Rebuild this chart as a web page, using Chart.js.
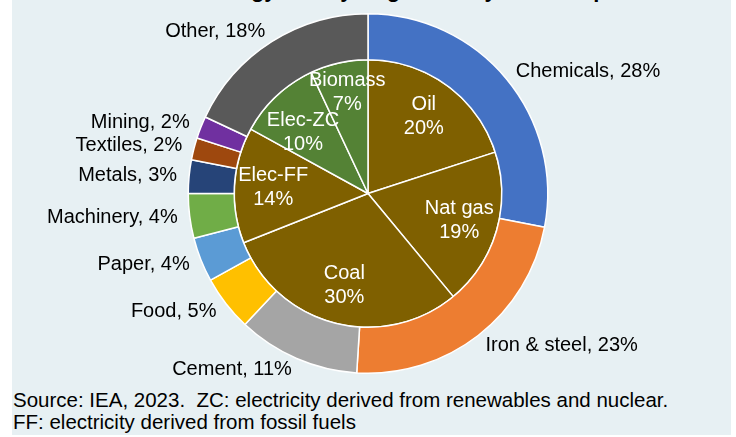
<!DOCTYPE html>
<html>
<head>
<meta charset="utf-8">
<script src="https://cdn.jsdelivr.net/npm/chart.js@4.4.0/dist/chart.umd.min.js"></script>
<style>
  html, body { margin: 0; padding: 0; background: #ffffff; }
  #panel {
    position: absolute; left: 12px; top: 0; width: 719px; height: 435px;
    background: #e7f0f3; overflow: hidden;
  }
  #title {
    position: absolute; left: 36px; top: -21px; white-space: nowrap;
    font: bold 22px "Liberation Sans", Arial, sans-serif; line-height: 22px; color: #000;
  }
  #wrap { position: absolute; left: -12px; top: 0; width: 736px; height: 388px; }
  #note {
    position: absolute; left: 1px; top: 389px; white-space: nowrap;
    font: 20.5px "Liberation Sans", Arial, sans-serif; line-height: 22px; color: #000;
  }
</style>
</head>
<body>
<div id="panel">
  <div id="title">Industrial final energy use by origin and by end-use product</div>
  <div id="wrap"><canvas id="chart"></canvas></div>
  <div id="note">Source: IEA, 2023.&nbsp; ZC: electricity derived from renewables and nuclear.<br>FF: electricity derived from fossil fuels</div>
</div>
<script>
// outer ring: industrial sub-sectors (% of energy use)
const sectors = ['Chemicals', 'Iron & steel', 'Cement', 'Food', 'Paper', 'Machinery', 'Metals', 'Textiles', 'Mining', 'Other'];
const sectorShares = [28, 23, 11, 5, 4, 4, 3, 2, 2, 18];
const sectorColors = ['#4472c4', '#ed7d31', '#a5a5a5', '#ffc000', '#5b9bd5', '#70ad47', '#264478', '#9e480e', '#7030a0', '#595959'];

// inner pie: energy sources
const sources = ['Oil', 'Nat gas', 'Coal', 'Elec-FF', 'Elec-ZC', 'Biomass'];
const sourceShares = [20, 19, 30, 14, 10, 7];
const sourceColors = ['#7f6000', '#7f6000', '#7f6000', '#7f6000', '#548235', '#548235'];

const FONT = '"Liberation Sans", Arial, sans-serif';

// draws the slice labels: outside for the ring, inside (white) for the pie
const sliceLabels = {
    id: 'sliceLabels',
    afterDatasetsDraw(chart) {
        const ctx = chart.ctx;
        ctx.save();
        ctx.font = '20px ' + FONT;
        ctx.textBaseline = 'middle';

        chart.getDatasetMeta(0).data.forEach((arc, i) => {
            const p = arc.getProps(['x', 'y', 'startAngle', 'endAngle', 'outerRadius'], true);
            const mid = (p.startAngle + p.endAngle) / 2;
            const r = p.outerRadius + 12;
            const x = p.x + r * Math.cos(mid);
            const y = p.y + r * Math.sin(mid);
            ctx.fillStyle = '#000';
            ctx.textAlign = Math.cos(mid) >= 0 ? 'left' : 'right';
            ctx.fillText(sectors[i] + ', ' + sectorShares[i] + '%', x, y);
        });

        // inner labels, pushed apart vertically where they would collide
        const boxes = chart.getDatasetMeta(1).data.map((arc, i) => {
            const p = arc.getProps(['x', 'y', 'startAngle', 'endAngle', 'outerRadius'], true);
            const mid = (p.startAngle + p.endAngle) / 2;
            const r = p.outerRadius * 0.71;
            const w = Math.max(ctx.measureText(sources[i]).width, ctx.measureText(sourceShares[i] + '%').width);
            return { i, x: p.x + r * Math.cos(mid), y: p.y + r * Math.sin(mid), w, h: 40 };
        });
        for (let a = 0; a < boxes.length; a++) {
            for (let b = a + 1; b < boxes.length; b++) {
                const A = boxes[a], B = boxes[b];
                const ox = (A.w + B.w) / 2 - Math.abs(A.x - B.x);
                const oy = (A.h + B.h) / 2 - Math.abs(A.y - B.y);
                if (ox > 0 && oy > 0) {
                    const s = A.y < B.y ? -1 : 1;
                    A.y += s * oy / 2;
                    B.y -= s * oy / 2;
                }
            }
        }
        ctx.fillStyle = '#fff';
        ctx.textAlign = 'center';
        boxes.forEach(b => {
            ctx.fillText(sources[b.i], b.x, b.y - 12);
            ctx.fillText(sourceShares[b.i] + '%', b.x, b.y + 12);
        });
        ctx.restore();
    }
};

new Chart(document.getElementById('chart'), {
    type: 'doughnut',
    data: {
        labels: sectors,
        datasets: [
            {
                data: sectorShares,
                backgroundColor: sectorColors,
                borderColor: '#ffffff',
                borderWidth: 1.5,
                weight: 46
            },
            {
                data: sourceShares,
                backgroundColor: sourceColors,
                borderColor: '#ffffff',
                borderWidth: 1.5,
                weight: 134
            }
        ]
    },
    options: {
        responsive: true,
        maintainAspectRatio: false,
        animation: false,
        cutout: 0,
        layout: { padding: { top: 13, bottom: 14 } },
        plugins: {
            legend: { display: false },
            tooltip: { enabled: false }
        }
    },
    plugins: [sliceLabels]
});
</script>
</body>
</html>
